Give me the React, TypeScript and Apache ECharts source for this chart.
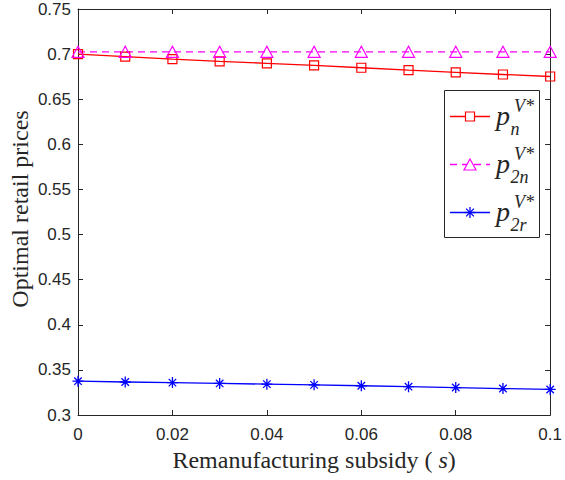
import React, { useEffect, useRef } from "react";
import * as echarts from "echarts";

const subsidy = [0, 0.01, 0.02, 0.03, 0.04, 0.05, 0.06, 0.07, 0.08, 0.09, 0.1];
const pn = [0.7, 0.6972, 0.6945, 0.692, 0.6898, 0.6876, 0.6849, 0.6822, 0.6798, 0.6774, 0.6752];
const p2n = [0.7025, 0.7025, 0.7025, 0.7025, 0.7025, 0.7025, 0.7025, 0.7025, 0.7025, 0.7025, 0.7025];
const p2r = [0.3375, 0.3366, 0.3359, 0.335, 0.3342, 0.3334, 0.3324, 0.3314, 0.3304, 0.3293, 0.3283];
const legendSubs = ["n", "2n", "2r"];
const xTitle = "Remanufacturing subsidy ( {i|s})";
const yTitle = "Optimal retail prices";

const SERIF = '"Liberation Serif", "Times New Roman", Times, serif';
const SANS = '"Liberation Sans", Arial, Helvetica, sans-serif';
const AX = "#262626";
const RED = "#ff0000";
const MAG = "#ff00ff";
const BLUE = "#0000ff";
const STAR = "path://M5 0L5 10M0 5L10 5M1.6 1.6L8.4 8.4M1.6 8.4L8.4 1.6";

function fmt(v: number) {
  return String(+v.toFixed(3));
}

function legendGraphics() {
  const els: any[] = [];
  els.push({
    type: "rect",
    shape: { x: 444.5, y: 90.5, width: 95, height: 147 },
    style: { fill: "#fff", stroke: AX, lineWidth: 1 },
    z: 100,
  });
  const rows = [116.5, 164.5, 212.5];
  const colors = [RED, MAG, BLUE];
  rows.forEach((y, i) => {
    const c = colors[i];
    els.push({
      type: "line",
      shape: { x1: 450, y1: y, x2: 490, y2: y },
      style: { stroke: c, lineWidth: 1.3, lineDash: i === 1 ? [7, 5] : null },
      z: 101,
    });
    if (i === 0) {
      els.push({
        type: "rect",
        shape: { x: 465.5, y: y - 4.5, width: 9, height: 9 },
        style: { fill: "#fff", stroke: c, lineWidth: 1.2 },
        z: 102,
      });
    } else if (i === 1) {
      els.push({
        type: "polygon",
        shape: { points: [[470, y - 5.5], [476, y + 5.5], [464, y + 5.5]] },
        style: { fill: "#fff", stroke: c, lineWidth: 1.2 },
        z: 102,
      });
    } else {
      const r = 5.5;
      const d = 3.9;
      [
        [470, y - r, 470, y + r],
        [470 - r, y, 470 + r, y],
        [470 - d, y - d, 470 + d, y + d],
        [470 - d, y + d, 470 + d, y - d],
      ].forEach((s) =>
        els.push({
          type: "line",
          shape: { x1: s[0], y1: s[1], x2: s[2], y2: s[3] },
          style: { stroke: c, lineWidth: 1.3 },
          z: 102,
        })
      );
    }
    els.push({
      type: "text",
      x: 496,
      y: y - 1,
      style: { text: "p", font: `italic 28px ${SERIF}`, fill: AX, align: "left", verticalAlign: "middle" },
      z: 102,
    });
    els.push({
      type: "text",
      x: 514,
      y: y - 11,
      style: { text: "V*", font: `italic 18px ${SERIF}`, fill: AX, align: "left", verticalAlign: "middle" },
      z: 102,
    });
    els.push({
      type: "text",
      x: 510.5,
      y: y + 12.5,
      style: { text: legendSubs[i], font: `italic 18px ${SERIF}`, fill: AX, align: "left", verticalAlign: "middle" },
      z: 102,
    });
  });
  els.push({
    type: "text",
    x: 20,
    y: 209,
    rotation: Math.PI / 2,
    style: { text: yTitle, font: `24px ${SERIF}`, fill: AX, align: "center", verticalAlign: "middle" },
  });
  return els;
}

export default function App() {
  const ref = useRef<HTMLDivElement>(null);
  useEffect(() => {
    if (!ref.current) return;
    const chart = echarts.init(ref.current, undefined, { renderer: "svg" });
    const baseX = {
      type: "value",
      min: 0,
      max: 0.1,
      interval: 0.02,
      splitLine: { show: false },
      axisLine: { show: true, onZero: false, lineStyle: { color: AX, width: 1 } },
      axisTick: { show: true, inside: true, length: 5, lineStyle: { color: AX } },
    };
    const baseY = {
      type: "value",
      min: 0.3,
      max: 0.75,
      interval: 0.05,
      splitLine: { show: false },
      axisLine: { show: true, onZero: false, lineStyle: { color: AX, width: 1 } },
      axisTick: { show: true, inside: true, length: 5, lineStyle: { color: AX } },
    };
    chart.setOption({
      animation: false,
      backgroundColor: "#fff",
      grid: { left: 78, right: 12, top: 9, bottom: 65, containLabel: false },
      xAxis: [
        {
          ...baseX,
          position: "bottom",
          name: xTitle,
          nameLocation: "middle",
          nameGap: 33,
          nameTextStyle: {
            fontFamily: SERIF,
            fontSize: 24,
            color: AX,
            rich: { i: { fontFamily: SERIF, fontSize: 24, fontStyle: "italic", color: AX } },
          },
          axisLabel: { color: AX, fontFamily: SANS, fontSize: 17, margin: 11, formatter: fmt },
        },
        { ...baseX, position: "top", axisLabel: { show: false } },
      ],
      yAxis: [
        {
          ...baseY,
          position: "left",
          axisLabel: { color: AX, fontFamily: SANS, fontSize: 17, margin: 7, formatter: fmt },
        },
        { ...baseY, position: "right", axisLabel: { show: false } },
      ],
      series: [
        {
          type: "line",
          data: subsidy.map((x, i) => [x, pn[i]]),
          symbol: "rect",
          symbolSize: 9,
          showAllSymbol: true,
          lineStyle: { color: RED, width: 1.3 },
          itemStyle: { color: "rgba(255,255,255,0)", borderColor: RED, borderWidth: 1.2 },
        },
        {
          type: "line",
          data: subsidy.map((x, i) => [x, p2n[i]]),
          symbol: "triangle",
          symbolSize: [12, 11],
          showAllSymbol: true,
          lineStyle: { color: MAG, width: 1.3, type: [7, 5] },
          itemStyle: { color: "rgba(255,255,255,0)", borderColor: MAG, borderWidth: 1.2 },
        },
        {
          type: "line",
          data: subsidy.map((x, i) => [x, p2r[i]]),
          symbol: STAR,
          symbolSize: 11,
          showAllSymbol: true,
          lineStyle: { color: BLUE, width: 1.3 },
          itemStyle: { color: "rgba(255,255,255,0)", borderColor: BLUE, borderWidth: 1.3 },
        },
      ],
      graphic: legendGraphics(),
    });
    return () => chart.dispose();
  }, []);
  return (
    <div
      ref={ref}
      style={{ position: "absolute", left: 0, top: 0, width: 565, height: 480 }}
    />
  );
}
